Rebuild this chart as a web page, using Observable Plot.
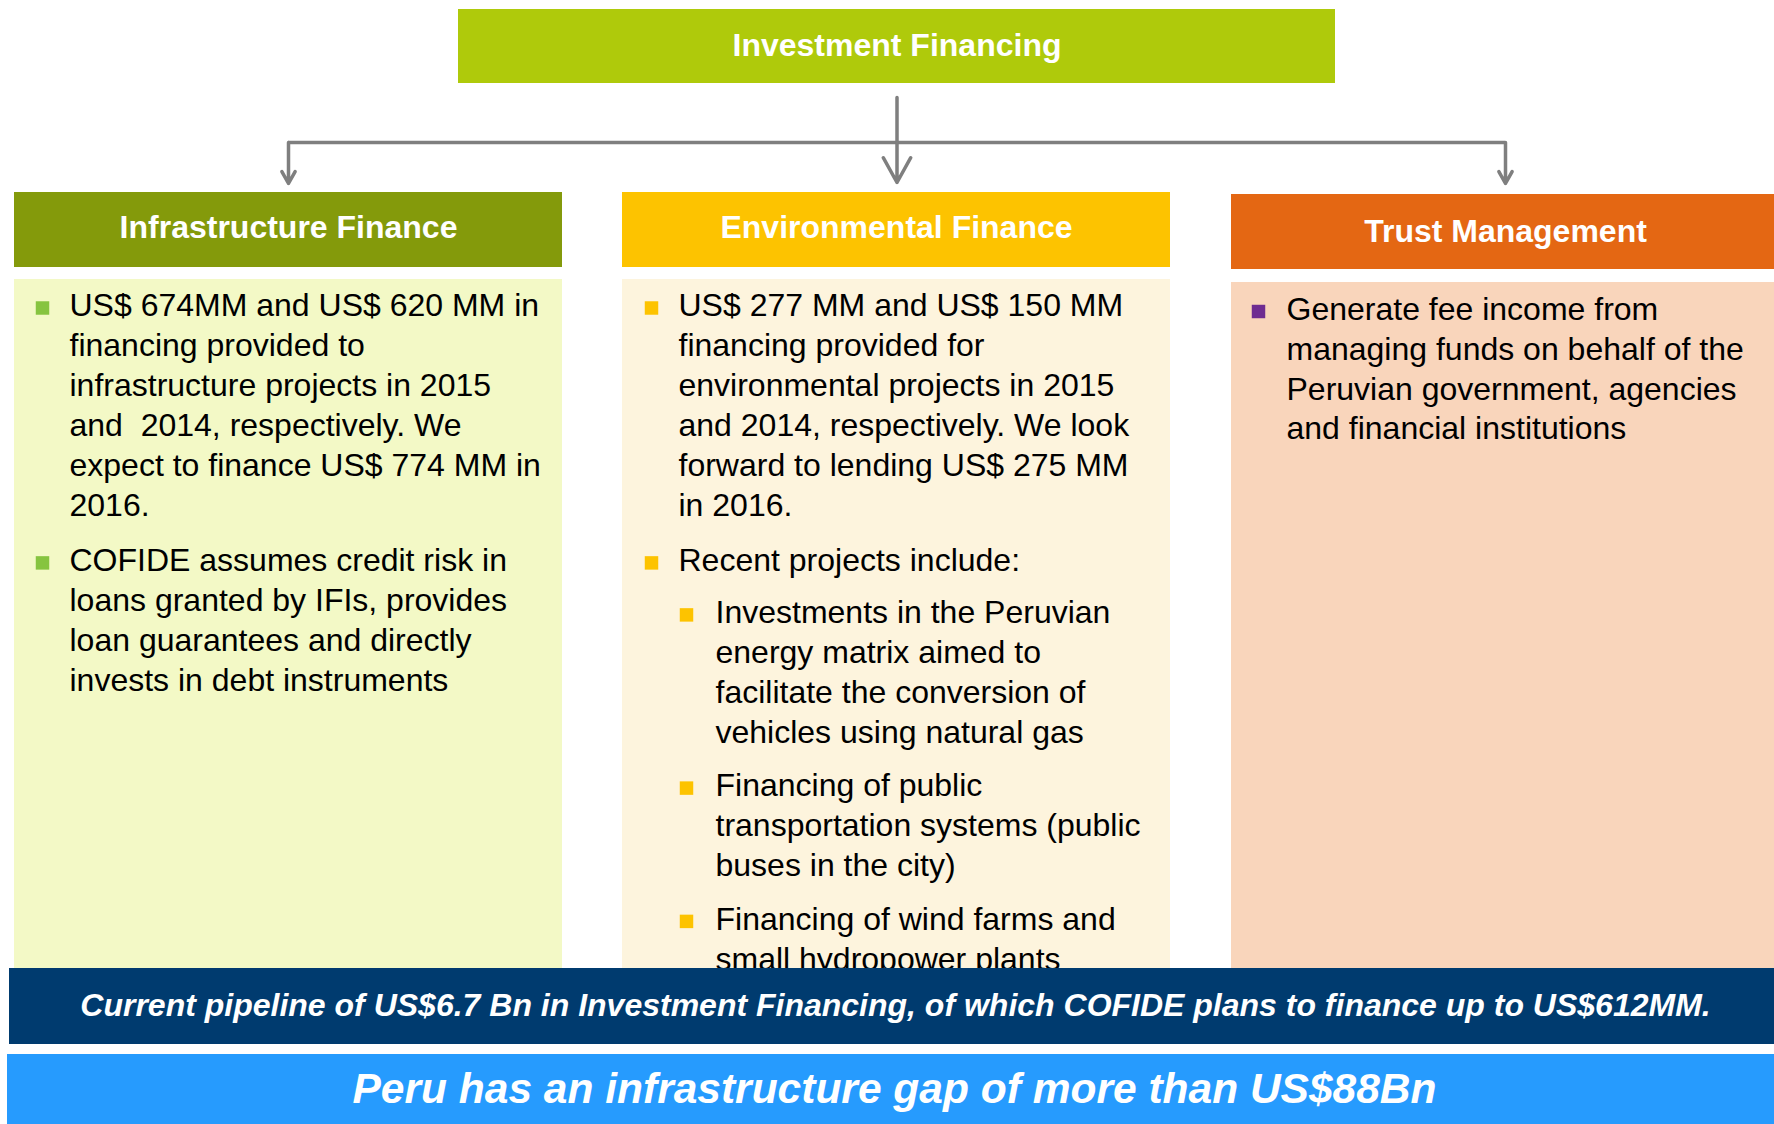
<!DOCTYPE html>
<html>
<head>
<meta charset="utf-8">
<script src="https://cdn.jsdelivr.net/npm/d3@7"></script>
<script src="https://cdn.jsdelivr.net/npm/@observablehq/plot@0.6"></script>
<style>
  html, body { margin: 0; padding: 0; background: #ffffff; }
  #chart svg { display: block; }
</style>
</head>
<body>
<div id="chart"></div>
<script>
// ---------------- DATA ----------------
const rootTitle = "Investment Financing";
const branchTitles = ["Infrastructure Finance", "Environmental Finance", "Trust Management"];

const infraBullets = [
  ["US$ 674MM and US$ 620 MM in", "financing provided to", "infrastructure projects in 2015", "and \u00a02014, respectively. We", "expect to finance US$ 774 MM in", "2016."],
  ["COFIDE assumes credit risk in", "loans granted by IFIs, provides", "loan guarantees and directly", "invests in debt instruments"]
];
const envBullets = [
  ["US$ 277 MM and US$ 150 MM", "financing provided for", "environmental projects in 2015", "and 2014, respectively. We look", "forward to lending US$ 275 MM", "in 2016."],
  ["Recent projects include:"]
];
const envSubBullets = [
  ["Investments in the Peruvian", "energy matrix aimed to", "facilitate the conversion of", "vehicles using natural gas"],
  ["Financing of public", "transportation systems (public", "buses in the city)"],
  ["Financing of wind farms and", "small hydropower plants"]
];
const trustBullets = [
  ["Generate fee income from", "managing funds on behalf of the", "Peruvian government, agencies", "and financial institutions"]
];
const pipelineNote = "Current pipeline of US$6.7 Bn in Investment Financing, of which COFIDE plans to finance up to US$612MM.";
const gapNote = "Peru has an infrastructure gap of more than US$88Bn";

// ---------------- LAYOUT & STYLE ----------------
const W = 1774, H = 1124;
const FONT = "'Liberation Sans', Arial, Helvetica, sans-serif";
const C = {
  root: "#afca0b",
  heads: ["#849a0b", "#fdc300", "#e46713"],
  bodies: ["#f3f9c6", "#fdf4dd", "#f9d5bb"],
  bullets: ["#86c440", "#fdc300", "#6f2c91"],
  navy: "#003b6f",
  blue: "#269bfe",
  connector: "#7f7f7f",
  text: "#000000"
};
const rootBox = {x1: 458, x2: 1335, y1: 9, y2: 83};
const cols = [
  {x1: 14, x2: 562, hy1: 192, hy2: 267, by1: 279, bulletX: 42, textX: 69, y0: 305.5, arrowX: 288, labelX: 288, labelDy: -2},
  {x1: 622, x2: 1170, hy1: 192, hy2: 267, by1: 279, bulletX: 651, textX: 678, y0: 305.5, arrowX: 896.5, labelX: 896, labelDy: -2,
   subBulletX: 686, subTextX: 715},
  {x1: 1231, x2: 1774, hy1: 194, hy2: 269, by1: 282, bulletX: 1258, textX: 1286, y0: 309, arrowX: 1505, labelX: 1505, labelDy: 0}
];
const bodyBottom = 968;
const busY = 142, rootLineTop = 97, arrowTip = 183;
const navyBar = {x1: 9, x2: W, y1: 968, y2: 1044};
const blueBar = {x1: 7, x2: W, y1: 1054, y2: H};
const LINE = 39.9, BODY_FS = 32, HEAD_FS = 32;
const GAP = {top: 55.4, intoSub: 52, sub: 53.5};

// ---------------- BUILD TABLES ----------------
const boxes = [
  {...rootBox, fill: C.root},
  ...cols.map((c, i) => ({x1: c.x1, x2: c.x2, y1: c.hy1, y2: c.hy2, fill: C.heads[i]})),
  ...cols.map((c, i) => ({x1: c.x1, x2: c.x2, y1: c.by1, y2: bodyBottom, fill: C.bodies[i]}))
];
const headLabels = [
  {x: (rootBox.x1 + rootBox.x2) / 2, y: (rootBox.y1 + rootBox.y2) / 2 - 1, text: rootTitle},
  ...cols.map((c, i) => ({x: c.labelX, y: (c.hy1 + c.hy2) / 2 + c.labelDy, text: branchTitles[i]}))
];

const lines = [], bullets = [];
function addParas(paras, col, level, colIdx, state) {
  for (const p of paras) {
    if (state.last !== null) {
      state.y += state.last === 0 && level === 0 ? GAP.top : state.last === 0 ? GAP.intoSub : GAP.sub;
    }
    const bx = level ? col.subBulletX : col.bulletX;
    const tx = level ? col.subTextX : col.textX;
    bullets.push({x: bx, y: state.y + 2, fill: C.bullets[colIdx]});
    p.forEach((t, k) => lines.push({x: tx, y: state.y + k * LINE, text: t}));
    state.y += (p.length - 1) * LINE;
    state.last = level;
  }
}
{ const s = {y: cols[0].y0, last: null}; addParas(infraBullets, cols[0], 0, 0, s); }
{ const s = {y: cols[1].y0, last: null}; addParas(envBullets, cols[1], 0, 1, s); addParas(envSubBullets, cols[1], 1, 1, s); }
{ const s = {y: cols[2].y0, last: null}; addParas(trustBullets, cols[2], 0, 2, s); }

const arrows = [
  {x: (rootBox.x1 + rootBox.x2) / 2, y1: rootLineTop, y2: arrowTip - 1},
  {x: cols[0].arrowX, y1: busY, y2: arrowTip},
  {x: cols[2].arrowX, y1: busY, y2: arrowTip}
];
const bars = [{...navyBar, fill: C.navy}, {...blueBar, fill: C.blue}];
const notes = [
  {x: 895, y: (navyBar.y1 + navyBar.y2) / 2 - 1, text: pipelineNote, size: 32},
  {x: 894, y: (blueBar.y1 + blueBar.y2) / 2, text: gapNote, size: 42.5}
];

// ---------------- PLOT ----------------
const chart = Plot.plot({
  width: W,
  height: H,
  margin: 0,
  x: {domain: [0, W], range: [0, W], axis: null},
  y: {domain: [0, H], range: [0, H], axis: null},
  color: {type: "identity"},
  style: {fontFamily: FONT, background: "#ffffff"},
  marks: [
    Plot.rect(boxes, {x1: "x1", x2: "x2", y1: "y1", y2: "y2", fill: "fill"}),
    Plot.ruleY([busY], {x1: cols[0].arrowX, x2: cols[2].arrowX, stroke: C.connector, strokeWidth: 3.5}),
    Plot.arrow(arrows, {x1: "x", x2: "x", y1: "y1", y2: "y2", stroke: C.connector, strokeWidth: 3.5,
      headLength: 22, headAngle: 58}),
    Plot.text(headLabels, {x: "x", y: "y", text: "text", fill: "#ffffff", fontSize: HEAD_FS, fontWeight: "bold",
      fontFamily: FONT, textAnchor: "middle"}),
    Plot.dot(bullets, {x: "x", y: "y", fill: "fill", symbol: "square", r: 7.6, stroke: null}),
    Plot.text(lines, {x: "x", y: "y", text: "text", fill: C.text, fontSize: BODY_FS, fontFamily: FONT,
      textAnchor: "start"}),
    Plot.rect(bars, {x1: "x1", x2: "x2", y1: "y1", y2: "y2", fill: "fill"}),
    Plot.text(notes, {x: "x", y: "y", text: "text", fontSize: "size", fill: "#ffffff", fontWeight: "bold",
      fontStyle: "italic", fontFamily: FONT, textAnchor: "middle"})
  ]
});
document.getElementById("chart").appendChild(chart);
</script>
</body>
</html>
